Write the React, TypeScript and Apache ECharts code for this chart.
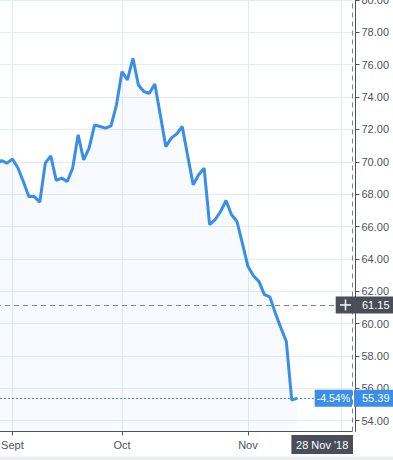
import React, { useEffect, useRef } from 'react';
import * as echarts from 'echarts';

// ---- data ----
const firstDate = '2018-08-29';
const lastAxisDate = '2018-11-28';
const prices = [
  69.8, 70.08, 69.92, 70.17, 69.63, 68.77, 67.86, 67.85, 67.51, 69.92,
  70.37, 68.85, 68.99, 68.78, 69.61, 71.67, 70.12, 70.85, 72.28, 72.18,
  72.08, 72.22, 73.52, 75.57, 75.06, 76.4, 74.75, 74.34, 74.24, 74.81,
  72.9, 70.94, 71.46, 71.73, 72.18, 70.37, 68.58, 69.2, 69.61, 66.11,
  66.42, 66.93, 67.61, 66.73, 66.31, 64.94, 63.54, 62.96, 62.61, 61.79,
  61.65, 60.66, 59.75, 58.91, 55.27, 55.39,
];
const monthStarts = ['2018-09-03', '2018-10-01', '2018-11-01'];
const monthLabels = ['Sept', 'Oct', 'Nov'];
const weekGridDates = ['2018-11-26'];
const crossDate = '2018-11-28';
const crossDateLabel = "28 Nov '18";
const crossValue = 61.15;
const lastValue = 55.39;
const changeLabel = '-4.54%';
const yMin = 53.33;
const yMax = 80;

function weekdays(from: string, to: string): string[] {
  const out: string[] = [];
  const d = new Date(from + 'T00:00:00Z');
  const end = new Date(to + 'T00:00:00Z');
  while (d <= end) {
    const wd = d.getUTCDay();
    if (wd !== 0 && wd !== 6) out.push(d.toISOString().slice(0, 10));
    d.setUTCDate(d.getUTCDate() + 1);
  }
  return out;
}
const dates = weekdays(firstDate, lastAxisDate);

const AXIS = '#4f525c';
const LABEL = '#50535e';
const GRID = '#e2ecf4';
const BLUE = '#3a8ee8';
const DARK = '#4a4e58';
const FONT = 'Arial, "Liberation Sans", sans-serif';
const W = 393;
const H = 460;
const Y_OFFSET = 3.5;

export default function App() {
  const ref = useRef<HTMLDivElement>(null);
  useEffect(() => {
    document.body.style.margin = '0';
    if (!ref.current) return;
    const chart = echarts.init(ref.current, null, { renderer: 'svg' });
    const crossIdx = dates.indexOf(crossDate);
    const option: any = {
      animation: false,
      grid: { left: -4, right: 41, top: 0, bottom: 28.5, containLabel: false, outerBoundsMode: 'none' },
      xAxis: {
        type: 'category',
        data: dates,
        boundaryGap: false,
        axisLine: { lineStyle: { color: AXIS, width: 1 } },
        axisTick: {
          length: 4,
          interval: (_i: number, v: string) => monthStarts.includes(v),
          lineStyle: { color: AXIS },
        },
        axisLabel: {
          interval: (_i: number, v: string) => monthStarts.includes(v),
          formatter: (v: string) => monthLabels[monthStarts.indexOf(v)] || '',
          color: LABEL,
          fontSize: 11,
          fontFamily: FONT,
          margin: 8,
        },
        splitLine: {
          show: true,
          interval: (_i: number, v: string) => monthStarts.includes(v) || weekGridDates.includes(v),
          lineStyle: { color: GRID, width: 1 },
        },
      },
      yAxis: {
        type: 'value',
        position: 'right',
        min: yMin,
        max: yMax,
        minInterval: 2,
        maxInterval: 2,
        splitNumber: 13,
        offset: Y_OFFSET,
        axisLine: { show: true, lineStyle: { color: AXIS, width: 1 } },
        axisTick: { show: true, length: 4, lineStyle: { color: AXIS } },
        axisLabel: {
          formatter: (v: number) => v.toFixed(2),
          showMinLabel: false,
          color: LABEL,
          fontSize: 11,
          fontFamily: FONT,
          margin: 6,
        },
        splitLine: { show: true, lineStyle: { color: GRID, width: 1 } },
      },
      series: [
        {
          type: 'line',
          data: prices,
          symbol: 'none',
          showSymbol: false,
          lineStyle: { color: BLUE, width: 3 },
          areaStyle: { color: 'rgba(58,142,232,0.06)', origin: 'start' },
          markLine: {
            silent: true,
            symbol: 'none',
            label: { show: false },
            animation: false,
            data: [
              { yAxis: crossValue, lineStyle: { color: '#758696', type: [5, 4], width: 1 } },
              { xAxis: crossIdx, lineStyle: { color: '#758696', type: [5, 4], width: 1 } },
              { yAxis: lastValue, lineStyle: { color: BLUE, type: [2, 2], width: 1 } },
            ],
          },
        },
      ],
    };
    chart.setOption(option);

    const [cx, cy] = chart.convertToPixel({ gridIndex: 0 }, [crossIdx, crossValue]) as number[];
    const ly = (chart.convertToPixel({ gridIndex: 0 }, [crossIdx, lastValue]) as number[])[1];
    const by = (chart.convertToPixel({ gridIndex: 0 }, [crossIdx, yMin]) as number[])[1];
    const axisX = cx + Y_OFFSET;
    const Z = 100;
    chart.setOption({
      graphic: [
        // crosshair price label with "+" icon
        { type: 'rect', z: Z, shape: { x: axisX - 19.8, y: cy - 8.5, width: 19.3, height: 17 }, style: { fill: DARK } },
        { type: 'line', z: Z + 1, shape: { x1: axisX - 15.5, y1: cy, x2: axisX - 4.5, y2: cy }, style: { stroke: '#fff', lineWidth: 1.5 } },
        { type: 'line', z: Z + 1, shape: { x1: axisX - 10, y1: cy - 5.5, x2: axisX - 10, y2: cy + 5.5 }, style: { stroke: '#fff', lineWidth: 1.5 } },
        { type: 'rect', z: Z, shape: { x: axisX + 0.5, y: cy - 8.5, width: W - axisX, height: 17 }, style: { fill: DARK } },
        { type: 'text', z: Z + 1, style: { text: crossValue.toFixed(2), x: axisX + 6.5, y: cy, fill: '#fff', font: `11px ${FONT}`, verticalAlign: 'middle', align: 'left' } },
        // last price labels
        { type: 'rect', z: Z, shape: { x: cx - 37.3, y: ly - 8.5, width: 37.3, height: 17 }, style: { fill: BLUE } },
        { type: 'text', z: Z + 1, style: { text: changeLabel, x: cx - 18.6, y: ly, fill: '#fff', font: `10.5px ${FONT}`, verticalAlign: 'middle', align: 'center' } },
        { type: 'rect', z: Z, shape: { x: cx + 2, y: ly - 8.5, width: W - cx, height: 17 }, style: { fill: BLUE } },
        { type: 'text', z: Z + 1, style: { text: lastValue.toFixed(2), x: axisX + 6.5, y: ly, fill: '#fff', font: `11px ${FONT}`, verticalAlign: 'middle', align: 'left' } },
        // crosshair date label
        { type: 'rect', z: Z, shape: { x: cx - 60.6, y: by + 3.5, width: 61.6, height: 19 }, style: { fill: DARK } },
        { type: 'text', z: Z + 1, style: { text: crossDateLabel, x: cx - 29.8, y: by + 13, fill: '#fff', font: `11px ${FONT}`, verticalAlign: 'middle', align: 'center' } },
        // bottom band
        { type: 'rect', z: Z, shape: { x: 0, y: H - 3.5, width: W, height: 3.5 }, style: { fill: '#eceef1' } },
      ],
    });
    return () => chart.dispose();
  }, []);
  return <div ref={ref} style={{ width: W, height: H }} />;
}
